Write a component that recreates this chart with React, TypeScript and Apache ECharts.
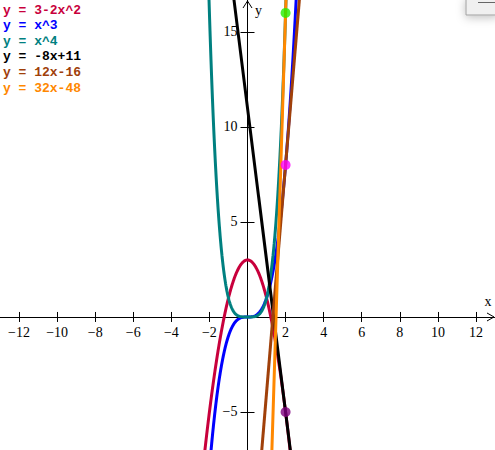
import { useEffect, useRef } from 'react';
import * as echarts from 'echarts';

// Visible window of the coordinate plane
const X_RANGE = [-13, 13];
const Y_RANGE = [-7, 16.68];

const xTickValues = [-12, -10, -8, -6, -4, -2, 2, 4, 6, 8, 10, 12];
const yTickValues = [-5, 5, 10, 15];

// Each curve is a polynomial; coefficients listed lowest power first
const curveNames = ['y = 3-2x^2', 'y = x^3', 'y = x^4', 'y = -8x+11', 'y = 12x-16', 'y = 32x-48'];
const curveCoefs = [
  [3, 0, -2],
  [0, 0, 0, 1],
  [0, 0, 0, 0, 1],
  [11, -8],
  [-16, 12],
  [-48, 32],
];
const curveColors = ['#c8003c', '#0000ff', '#008080', '#000000', '#a0400a', '#ff8800'];

// Points of tangency
const tangentPoints = [
  [2, 16],
  [2, 8],
  [2, -5],
];
const pointColors = ['#22ee00', '#ff00ff', '#800080'];

const evalPoly = (coefs: number[], x: number) =>
  coefs.reduce((acc, c, i) => acc + c * Math.pow(x, i), 0);

const sampleCurve = (coefs: number[]) => {
  if (coefs.length <= 2) {
    return X_RANGE.map((x) => [x, evalPoly(coefs, x)]);
  }
  const pts: number[][] = [];
  for (let i = 0; i <= 600; i++) {
    const x = -3 + i * 0.01;
    pts.push([x, evalPoly(coefs, x)]);
  }
  return pts;
};

const minus = (v: number) => String(v).replace('-', '\u2212');
const labelFont = '"Liberation Serif", "Times New Roman", serif';
const monoFont = '"Liberation Mono", "Courier New", monospace';

export default function App() {
  const ref = useRef<HTMLDivElement>(null);

  useEffect(() => {
    document.body.style.margin = '0';
    const chart = echarts.init(ref.current!, null, { renderer: 'svg' });

    const tickStyle = { color: '#000', width: 1 };
    const baseAxis = {
      type: 'value' as const,
      splitLine: { show: false },
      axisLabel: { show: false },
    };

    chart.setOption({
      animation: false,
      backgroundColor: '#ffffff',
      grid: { left: 0, right: 0, top: 0, bottom: 0, containLabel: false, outerBoundsMode: 'none' },
      xAxis: [
        {
          ...baseAxis,
          min: X_RANGE[0],
          max: X_RANGE[1],
          position: 'bottom',
          axisLine: { show: true, onZero: true, lineStyle: tickStyle },
          axisTick: { show: true, customValues: xTickValues, length: 5, lineStyle: tickStyle },
        },
        {
          ...baseAxis,
          min: X_RANGE[0],
          max: X_RANGE[1],
          position: 'top',
          axisLine: { show: false, onZero: true },
          axisTick: { show: true, customValues: xTickValues, length: 5, lineStyle: tickStyle },
        },
      ],
      yAxis: [
        {
          ...baseAxis,
          min: Y_RANGE[0],
          max: Y_RANGE[1],
          position: 'left',
          axisLine: { show: true, onZero: true, lineStyle: tickStyle },
          axisTick: { show: true, customValues: yTickValues, length: 7, lineStyle: tickStyle },
        },
        {
          ...baseAxis,
          min: Y_RANGE[0],
          max: Y_RANGE[1],
          position: 'right',
          axisLine: { show: false, onZero: true },
          axisTick: { show: true, customValues: yTickValues, length: 7, lineStyle: tickStyle },
        },
      ],
      series: [
        ...curveCoefs.map((coefs, i) => ({
          type: 'line',
          name: curveNames[i],
          xAxisIndex: 0,
          yAxisIndex: 0,
          data: sampleCurve(coefs),
          showSymbol: false,
          clip: true,
          lineStyle: { color: curveColors[i], width: 3 },
          itemStyle: { color: curveColors[i] },
          z: 2 + i * 0.01,
        })),
        {
          type: 'scatter',
          xAxisIndex: 0,
          yAxisIndex: 0,
          data: tangentPoints.map((p, i) => ({ value: p, itemStyle: { color: pointColors[i] } })),
          symbol: 'circle',
          symbolSize: 10,
          z: 5,
        },
      ],
    });

    const toPx = (p: number[]) => chart.convertToPixel({ gridIndex: 0 }, p) as number[];
    const [ox, oy] = toPx([0, 0]);
    const rx = toPx([X_RANGE[1], 0])[0];
    const ty = toPx([0, Y_RANGE[1]])[1];

    const arrowStyle = { stroke: '#000', lineWidth: 1, fill: 'none' };
    const tickFont = `14px ${labelFont}`;

    chart.setOption({
      graphic: [
        // axis arrowheads
        {
          type: 'polyline',
          shape: { points: [[rx - 8, oy - 4], [rx - 1, oy], [rx - 8, oy + 4]] },
          style: arrowStyle,
          z: 10,
        },
        {
          type: 'polyline',
          shape: { points: [[ox - 4.5, ty + 8], [ox, ty + 1], [ox + 4.5, ty + 8]] },
          style: arrowStyle,
          z: 10,
        },
        // tick labels placed through the axis scales
        ...xTickValues.map((v) => ({
          type: 'text',
          x: toPx([v, 0])[0],
          y: oy + 16,
          style: { text: minus(v), fill: '#000', font: tickFont, textAlign: 'center', textVerticalAlign: 'middle' },
          z: 10,
        })),
        ...yTickValues.map((v) => ({
          type: 'text',
          x: ox - 10,
          y: toPx([0, v])[1],
          style: { text: minus(v), fill: '#000', font: tickFont, textAlign: 'right', textVerticalAlign: 'middle' },
          z: 10,
        })),
        // axis names
        {
          type: 'text',
          x: rx - 7,
          y: oy - 15,
          style: { text: 'x', fill: '#000', font: tickFont, textAlign: 'center', textVerticalAlign: 'middle' },
          z: 10,
        },
        {
          type: 'text',
          x: ox + 11,
          y: ty + 10,
          style: { text: 'y', fill: '#000', font: tickFont, textAlign: 'center', textVerticalAlign: 'middle' },
          z: 10,
        },
        // equation list
        ...curveNames.map((name, i) => ({
          type: 'text',
          x: 3,
          y: 10 + i * 15.6,
          style: {
            text: name,
            fill: curveColors[i],
            font: `bold 13px ${monoFont}`,
            textVerticalAlign: 'middle',
          },
          z: 10,
        })),
        // small toolbar button in the corner
        {
          type: 'rect',
          shape: { x: 466, y: -2, width: 32, height: 17 },
          style: {
            fill: '#f0f0f0',
            stroke: '#a0a0a0',
            lineWidth: 1,
            shadowBlur: 10,
            shadowColor: 'rgba(0,0,0,0.25)',
            shadowOffsetX: 0,
            shadowOffsetY: 2,
          },
          z: 20,
        },
        {
          type: 'line',
          shape: { x1: 478, y1: 2.5, x2: 495, y2: 2.5 },
          style: { stroke: '#666', lineWidth: 1 },
          z: 21,
        },
      ],
    });

    return () => chart.dispose();
  }, []);

  return <div ref={ref} style={{ width: 495, height: 450 }} />;
}
